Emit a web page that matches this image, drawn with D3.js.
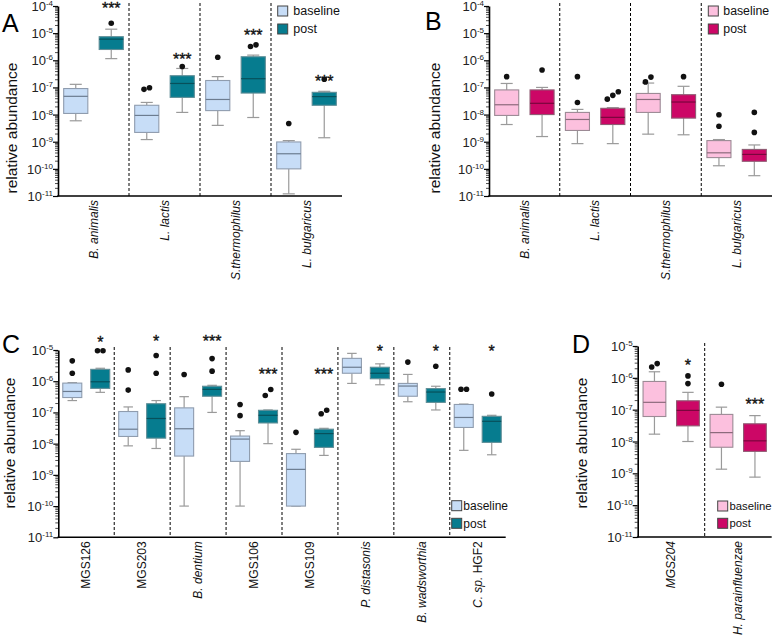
<!DOCTYPE html>
<html><head><meta charset="utf-8">
<script src="https://cdn.jsdelivr.net/npm/d3@7"></script>
<style>
body{margin:0;background:#fff}
svg{display:block}
text{font-family:"Liberation Sans",Arial,sans-serif}
</style>
</head><body>
<svg id="chart" width="775" height="637"></svg>
<script>
// ---------------- DATA ----------------
// each stats row: [min, q1, median, q3, max]
const aCats = ["B. animalis", "L. lactis", "S.thermophilus", "L. bulgaricus"];
const aItalic = ["B. animalis", "L. lactis", "S.thermophilus", "L. bulgaricus"];
const aBase = [[5.9e-9,1.1e-8,4.7e-8,9.1e-8,1.3e-7],[1.2e-9,2.2e-9,9.3e-9,2.2e-8,2.8e-8],[4.0e-9,1.4e-8,3.6e-8,1.8e-7,2.5e-7],[1.2e-11,1.0e-10,3.6e-10,9.8e-10,1.1e-9]];
const aBaseOut = [[],[8.5e-8,9.7e-8],[1.3e-6],[4.7e-9]];
const aPost = [[1.15e-6,2.5e-6,6.0e-6,7.4e-6,1.4e-5],[1.2e-8,4.3e-8,1.4e-7,2.7e-7,5.0e-7],[7.8e-9,6.2e-8,2.1e-7,1.35e-6,1.55e-6],[1.4e-9,2.2e-8,4.6e-8,6.6e-8,7.2e-8]];
const aPostOut = [[2.3e-5],[5.9e-7],[3.2e-6,3.7e-6],[2.0e-7]];
const aStars = ["***","***","***","***"];
const aStarPos = [1.0e-4,1.3e-6,9.8e-6,2.0e-7];

const bCats = ["B. animalis", "L. lactis", "S.thermophilus", "L. bulgaricus"];
const bItalic = ["B. animalis", "L. lactis", "S.thermophilus", "L. bulgaricus"];
const bBase = [[4.3e-9,9.3e-9,2.3e-8,8.1e-8,1.4e-7],[8.5e-10,2.6e-9,6.6e-9,1.2e-8,1.55e-8],[1.9e-9,1.2e-8,3.6e-8,6.0e-8,1.45e-7],[1.3e-10,2.6e-10,3.9e-10,1.1e-9,1.2e-9]];
const bBaseOut = [[2.5e-7],[2.8e-8,2.5e-7],[1.6e-7,2.4e-7],[3.7e-9,9.8e-9]];
const bPost = [[1.55e-9,1.0e-8,2.6e-8,8.1e-8,1.0e-7],[8.5e-10,4.3e-9,7.9e-9,1.7e-8,1.8e-8],[1.8e-9,7.4e-9,2.9e-8,5.4e-8,1.1e-7],[5.6e-11,1.9e-10,3.4e-10,5.2e-10,7.6e-10]];
const bPostOut = [[4.4e-7],[3.7e-8,5.1e-8,6.9e-8],[2.5e-7],[2.2e-9,1.2e-8]];
const bStars = ["","","",""];
const bStarPos = [null,null,null,null];

const cCats = ["MGS126","MGS203","B. dentium","MGS106","MGS109","P. distasonis","B. wadsworthia","C. sp. HGF2"];
const cItalic = ["","","B. dentium","","","P. distasonis","B. wadsworthia","C. sp."];
const cBase = [[2.4e-7,3.0e-7,4.7e-7,8.7e-7,9.0e-7],[8.5e-9,1.7e-8,2.9e-8,1.07e-7,1.5e-7],[1e-10,4e-9,3e-8,1.4e-7,3.2e-7],[1e-10,2.7e-9,1.4e-8,1.75e-8,2.6e-8],[1e-10,1e-10,1.5e-9,4.8e-9,6.6e-9],[8.5e-7,1.8e-6,2.8e-6,5.4e-6,7.8e-6],[2.2e-7,3.3e-7,7.0e-7,8.5e-7,1.65e-6],[6.1e-9,3.3e-8,6.9e-8,1.8e-7,1.85e-7]];
const cBaseOut = [[1.8e-6,4.5e-6],[5.2e-7,2.3e-6],[1.65e-6],[7.9e-8,1.8e-7],[2.3e-8],[],[4.1e-6],[5.5e-7,5.5e-7]];
const cPost = [[4.4e-7,5.9e-7,9.6e-7,2.4e-6,2.6e-6],[7.0e-9,1.5e-8,6.4e-8,1.9e-7,2.4e-7],[1.0e-7,3.3e-7,5.5e-7,6.9e-7,7.4e-7],[1.0e-8,4.6e-8,8.1e-8,1.17e-7,1.2e-7],[4.2e-9,7.6e-9,2.1e-8,2.9e-8,3.1e-8],[7.7e-7,1.2e-6,1.8e-6,2.8e-6,3.6e-6],[1.2e-7,2.1e-7,4.5e-7,5.8e-7,6.9e-7],[4.4e-9,1.1e-8,5.2e-8,7.5e-8,8.1e-8]];
const cPostOut = [[9.5e-6,9.5e-6],[1.8e-6,6.7e-6],[2.1e-6,5.3e-6],[3.5e-7,5.4e-7],[9.1e-8,1.17e-7],[],[3.0e-6],[3.9e-7]];
const cStars = ["*","*","***","***","***","*","*","*"];
const cStarPos = [2.0e-5,2.1e-5,2.1e-5,1.9e-6,1.9e-6,1.05e-5,1.05e-5,1.05e-5];

const dCats = ["MGS204","H. parainfluenzae"];
const dItalic = ["MGS204","H. parainfluenzae"];
const dBase = [[1.7e-8,6.1e-8,1.7e-7,7.7e-7,1.55e-6],[1.35e-9,6.6e-9,1.9e-8,7.1e-8,1.2e-7]];
const dBaseOut = [[2.2e-6,2.8e-6],[6.3e-7]];
const dPost = [[1.0e-8,3.1e-8,9.5e-8,1.9e-7,3.5e-7],[7.6e-10,4.9e-9,1.05e-8,3.6e-8,6.5e-8]];
const dPostOut = [[6.6e-7,1.15e-6],[]];
const dStars = ["*","***"];
const dStarPos = [2.8e-6,1.7e-7];

const seriesNames = ["baseline","post"];

// ---------------- STYLE ----------------
const BLUE = {base:{fill:"#c7ddf7",stroke:"#8f9cae",med:"#6c7c90"}, post:{fill:"#067c8f",stroke:"#5e8d96",med:"#07505b"}};
const PINK = {base:{fill:"#fcc0de",stroke:"#9c8a95",med:"#8c6a7c"}, post:{fill:"#cc0766",stroke:"#8f5b73",med:"#7a063d"}};

const svg = d3.select("#chart");

function drawPanel(p){
  const g = svg.append("g");
  const y = d3.scaleLog().domain([1e-11, p.top]).range([p.yBottom, p.yTop]);
  const x = d3.scaleBand().domain(p.cats).range([p.x0, p.x1]);
  const bw = x.bandwidth(), boxW = bw*0.34, off = bw*0.25, capW = boxW*0.5;
  const eLo = -11, eHi = Math.round(Math.log10(p.top));
  const majors = d3.range(eLo, eHi+1).map(e => Math.pow(10, e));
  const minors = [];
  for (let e = eLo; e < eHi; e++) for (let m = 2; m <= 9; m++) minors.push(m*Math.pow(10, e));

  // minor ticks
  const mi = g.append("g").attr("transform", `translate(${p.x0},0)`)
    .call(d3.axisLeft(y).tickValues(minors).tickSize(3).tickSizeOuter(0).tickFormat(""));
  mi.select(".domain").remove();
  mi.selectAll("line").attr("stroke","#000").attr("stroke-width",0.7);
  mi.selectAll("text").remove();

  // major ticks
  const ya = g.append("g").attr("transform", `translate(${p.x0},0)`)
    .call(d3.axisLeft(y).tickValues(majors).tickSize(5).tickSizeOuter(0).tickFormat(""));
  ya.select(".domain").attr("stroke","#000").attr("stroke-width",1.6);
  ya.selectAll(".tick line").attr("stroke","#000").attr("stroke-width",1.2);
  ya.selectAll(".tick text").each(function(d){
    const t = d3.select(this);
    t.text(null).attr("x",-5).attr("dy","0.35em").attr("font-size",13)
      .attr("fill","#222").attr("text-anchor","end").attr("font-family",'"Liberation Sans",Arial,sans-serif');
    t.append("tspan").text("10");
    t.append("tspan").attr("font-size",8).attr("dy",-5).text(Math.round(Math.log10(d)));
  });

  // dashed separators
  g.selectAll(".sep").data(p.cats.slice(1)).join("line")
    .attr("x1", d => x(d)).attr("x2", d => x(d))
    .attr("y1", p.yTop - 3).attr("y2", p.yBottom)
    .attr("stroke","#000").attr("stroke-width",1).attr("stroke-dasharray","3,2");

  // x axis line
  g.append("line").attr("x1", p.x0 - 0.8).attr("x2", p.x1).attr("y1", p.yBottom).attr("y2", p.yBottom)
    .attr("stroke","#000").attr("stroke-width",1.6);

  // category labels
  p.cats.forEach((c, i) => {
    const t = g.append("text")
      .attr("transform", `translate(${x(c)+bw/2},${p.yBottom+4}) rotate(-90)`)
      .attr("text-anchor","end").attr("dy","0.35em").attr("font-size",12).attr("fill","#111");
    const it = p.italic[i];
    if (it) t.append("tspan").attr("font-style","italic").text(it);
    const rest = c.slice(it.length);
    if (rest) t.append("tspan").text(rest);
  });

  // boxes
  function drawSeries(stats, outs, sign, col){
    p.cats.forEach((c, i) => {
      const [mn, q1, md, q3, mx] = stats[i];
      const cx = x(c) + bw/2 + sign*off;
      const wg = g.append("g");
      const wcol = "#9a9a9a";
      wg.append("line").attr("x1",cx).attr("x2",cx).attr("y1",y(mx)).attr("y2",y(q3)).attr("stroke",wcol).attr("stroke-width",1.2);
      wg.append("line").attr("x1",cx).attr("x2",cx).attr("y1",y(q1)).attr("y2",y(mn)).attr("stroke",wcol).attr("stroke-width",1.2);
      wg.append("line").attr("x1",cx-capW/2).attr("x2",cx+capW/2).attr("y1",y(mx)).attr("y2",y(mx)).attr("stroke",wcol).attr("stroke-width",1.2);
      wg.append("line").attr("x1",cx-capW/2).attr("x2",cx+capW/2).attr("y1",y(mn)).attr("y2",y(mn)).attr("stroke",wcol).attr("stroke-width",1.2);
      wg.append("rect").attr("x",cx-boxW/2).attr("width",boxW)
        .attr("y",y(q3)).attr("height",Math.max(0.5, y(q1)-y(q3)))
        .attr("fill",col.fill).attr("stroke",col.stroke).attr("stroke-width",1.1);
      wg.append("line").attr("x1",cx-boxW/2).attr("x2",cx+boxW/2).attr("y1",y(md)).attr("y2",y(md))
        .attr("stroke",col.med).attr("stroke-width",1.2);
      // outliers, spread clusters horizontally
      const pts = outs[i].map(v => ({v, py: y(v)})).sort((a,b) => b.py - a.py);
      const clusters = [];
      pts.forEach(pt => {
        const last = clusters[clusters.length-1];
        if (last && Math.abs(last[last.length-1].py - pt.py) < 6) last.push(pt); else clusters.push([pt]);
      });
      clusters.forEach(cl => cl.forEach((pt, k) => {
        const dx = (k - (cl.length-1)/2) * 5.5;
        wg.append("circle").attr("cx", cx+dx).attr("cy", pt.py).attr("r", 2.8).attr("fill","#111");
      }));
    });
  }
  drawSeries(p.base, p.baseOut, -1, p.colors.base);
  drawSeries(p.post, p.postOut, 1, p.colors.post);

  // stars
  p.cats.forEach((c, i) => {
    if (!p.stars[i]) return;
    g.append("text").attr("x", x(c)+bw/2+off).attr("y", y(p.starPos[i]) + 7.5)
      .attr("text-anchor","middle").attr("font-size",16).attr("fill","#111")
      .attr("stroke","#111").attr("stroke-width",0.35).text(p.stars[i]);
  });

  // y label
  g.append("text").attr("transform", `translate(${p.ylabX},${p.ylabY}) rotate(-90)`)
    .attr("text-anchor","middle").attr("dy","0.35em").attr("font-size",15.5).attr("fill","#111")
    .text("relative abundance");

  // panel letter
  g.append("text").attr("x", p.letterX).attr("y", p.letterY).attr("font-size",25).attr("fill","#000").text(p.letter);

  // legend
  const lg = g.append("g");
  seriesNames.forEach((s, k) => {
    const col = k === 0 ? p.colors.base : p.colors.post;
    lg.append("rect").attr("x", p.legX).attr("y", p.legY + k*p.legStep).attr("width",10).attr("height",10)
      .attr("fill", col.fill).attr("stroke","#444").attr("stroke-width",1);
    lg.append("text").attr("x", p.legTX).attr("y", p.legY + k*p.legStep + 5).attr("dy","0.35em")
      .attr("font-size",p.legFS).attr("fill","#111").text(s);
  });
}

drawPanel({letter:"A", letterX:2, letterY:32, x0:58, x1:342, yTop:6, yBottom:196, top:1e-4,
  cats:aCats, italic:aItalic, base:aBase, baseOut:aBaseOut, post:aPost, postOut:aPostOut,
  stars:aStars, starPos:aStarPos, colors:BLUE, ylabX:12, ylabY:128,
  legX:277.7, legY:6, legStep:18, legTX:293.3, legFS:12.5});
drawPanel({letter:"B", letterX:425, letterY:30, x0:489, x1:772, yTop:6, yBottom:196, top:1e-4,
  cats:bCats, italic:bItalic, base:bBase, baseOut:bBaseOut, post:bPost, postOut:bPostOut,
  stars:bStars, starPos:bStarPos, colors:PINK, ylabX:434.5, ylabY:128,
  legX:708.3, legY:6, legStep:18, legTX:723.3, legFS:12.3});
drawPanel({letter:"C", letterX:2, letterY:353, x0:58.3, x1:505.7, yTop:350, yBottom:537.3, top:1e-5,
  cats:cCats, italic:cItalic, base:cBase, baseOut:cBaseOut, post:cPost, postOut:cPostOut,
  stars:cStars, starPos:cStarPos, colors:BLUE, ylabX:10, ylabY:443,
  legX:451.7, legY:500.7, legStep:17.6, legTX:463.3, legFS:12});
drawPanel({letter:"D", letterX:572, letterY:353, x0:637.7, x1:771.7, yTop:346, yBottom:537, top:1e-5,
  cats:dCats, italic:dItalic, base:dBase, baseOut:dBaseOut, post:dPost, postOut:dPostOut,
  stars:dStars, starPos:dStarPos, colors:PINK, ylabX:582, ylabY:443,
  legX:717.7, legY:501, legStep:17.3, legTX:729.5, legFS:11.3});
</script>
</body></html>
